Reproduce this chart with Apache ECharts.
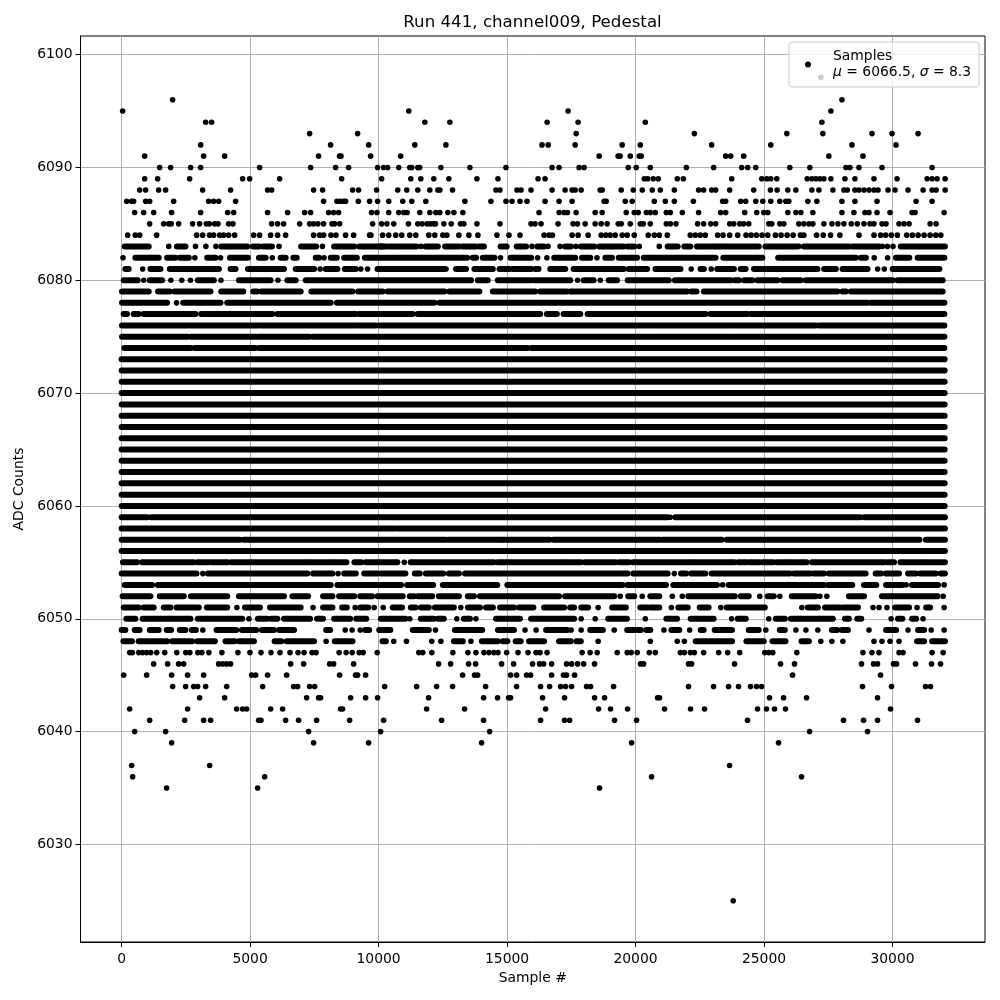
<!DOCTYPE html>
<html>
<head>
<meta charset="utf-8">
<style>
  html, body { margin: 0; padding: 0; background: #fff; }
  #chart { width: 1000px; height: 1000px; }
</style>
<script src="https://cdn.jsdelivr.net/npm/echarts@6/dist/echarts.min.js"></script>
</head>
<body>
<div id="chart"></div>
<script>
// tick labels
const xTicks = [0, 5000, 10000, 15000, 20000, 25000, 30000];
const yTicks = [6030, 6040, 6050, 6060, 6070, 6080, 6090, 6100];

// sparse rows: sample numbers of each dot at that ADC level
const row6098 = [27213];
const row6096 = [1986, 28032];
const row6095 = [40, 11175, 17376, 27603];
const row6094 = [3270, 3503, 11800, 12775, 16560, 17765, 20380, 27252];
const row6093 = [7316, 9184, 17690, 22290, 25887, 27291, 29202, 29982, 30996];
const row6092 = [3075, 8133, 9612, 11410, 12620, 16360, 16600, 17650, 19480, 20185, 22962, 25263, 28422, 30138];
const row6091 = [896, 3192, 4009, 7667, 8484, 8535, 9690, 10860, 18585, 19325, 19400, 19795, 20145, 20220, 23508, 23703, 24210, 27525, 28851];
const row6090 = [1480, 1908, 2686, 3075, 5371, 7355, 8328, 8834, 9962, 10196, 10351, 10785, 11215, 11290, 11526, 11600, 12423, 13554, 14958, 16752, 17025, 17805, 18000, 19716, 20028, 20574, 21978, 23040, 24132, 24366, 24678, 26004, 26784, 28188, 28344, 28695, 29592, 31542];
const row6089 = [896, 1402, 2647, 4709, 4982, 6149, 8562, 10118, 11253, 11643, 12150, 12735, 13827, 14646, 16206, 16479, 20340, 20470, 20690, 20885, 21627, 21861, 23742, 24912, 25107, 25263, 25497, 26680, 26862, 27018, 27174, 27330, 27603, 28149, 28539, 29280, 30177, 31347, 31542, 31737, 32049];
const row6088 = [702, 935, 1441, 1713, 3153, 4242, 5682, 5838, 7472, 7822, 8990, 9223, 9923, 10746, 11097, 11526, 11994, 12306, 12384, 12878, 14568, 14724, 15387, 15543, 15933, 16752, 17259, 17532, 17649, 17883, 18624, 18702, 19443, 19911, 20262, 20652, 20964, 21510, 22455, 22650, 22962, 23118, 23664, 24600, 25250, 25510, 25926, 26238, 26862, 27135, 27681, 28110, 28240, 28539, 28695, 28890, 29085, 29280, 29436, 29826, 30099, 30606, 31191, 31542, 31698, 32049];
const row6087 = [196, 390, 468, 935, 1091, 2025, 3387, 3581, 3776, 4437, 7861, 8380, 8510, 8639, 8717, 9210, 9651, 9962, 10395, 10941, 11292, 11838, 13359, 14373, 14958, 15192, 15504, 15777, 16479, 17025, 17532, 18780, 18858, 19599, 19872, 20730, 21159, 21510, 22251, 23391, 23508, 24093, 24288, 24678, 24951, 25263, 25614, 25848, 25965, 26706, 27057, 28032, 28539, 29397, 30918, 31542];
const row6086 = [507, 857, 1247, 1947, 3075, 4126, 4360, 5682, 6460, 7122, 7355, 8056, 8250, 8445, 9729, 9937, 10395, 10785, 10980, 11110, 11604, 11994, 12228, 12384, 12696, 12930, 13281, 16245, 17025, 17220, 17350, 17688, 18429, 18702, 19638, 19950, 20106, 20418, 20574, 20769, 21198, 21354, 21822, 22455, 23313, 23508, 24249, 24717, 24990, 25146, 25926, 26238, 26433, 26901, 28032, 28500, 28929, 29085, 29397, 29904, 30762, 30879, 32010];
const row6085 = [1091, 1636, 1830, 1934, 2219, 2764, 3036, 3296, 3413, 3620, 3750, 4165, 4333, 5838, 6071, 6305, 6927, 7316, 7472, 7641, 7861, 8185, 8289, 8484, 9768, 10118, 10325, 10590, 11162, 11526, 11695, 11890, 12020, 12150, 12215, 12540, 12826, 13190, 13320, 13827, 14724, 15933, 16089, 16323, 16986, 17571, 17740, 18039, 18429, 18663, 18897, 19326, 19443, 19794, 20184, 20301, 20574, 21198, 21354, 21575, 22416, 22650, 22923, 23118, 23664, 23820, 24054, 24210, 24405, 25185, 25302, 25614, 25770, 26355, 26550, 26745, 26901, 27330, 27642, 27876, 28110, 28396, 28630, 28890, 29124, 29280, 29592, 29748, 30255, 30450, 30645, 31464, 31698];
const row6084 = [235, 533, 702, 1363, 2920, 3153, 3425, 3581, 3815, 3970, 4165, 4398, 5138, 5371, 5799, 6071, 6382, 7472, 7706, 7861, 8147, 8341, 8717, 9029, 9651, 9703, 10157, 10395, 10668, 10902, 11214, 11448, 11955, 12189, 12501, 12657, 13125, 13515, 13866, 14607, 15075, 15504, 16440, 16635, 16765, 17532, 17766, 18156, 18663, 18845, 19014, 19209, 19482, 19677, 19950, 20496, 20730, 20925, 21237, 22130, 22325, 22520, 22715, 23196, 23404, 23664, 23976, 24301, 24496, 24704, 24925, 25146, 25445, 25666, 25900, 26134, 26420, 26550, 27044, 27304, 27590, 27954, 28695, 29280, 29540, 29735, 29956, 30190, 30554, 30775, 30996, 31230, 31464, 31685, 31880];
const row6047 = [314, 418, 665, 821, 977, 1133, 1367, 1679, 2147, 2498, 2654, 2966, 3122, 3395, 3902, 4526, 4994, 5423, 5813, 6164, 6554, 6866, 7100, 7412, 7568, 8465, 8738, 8972, 9245, 9401, 9947, 11565, 11721, 12072, 12891, 13476, 13788, 14100, 14295, 14490, 14646, 14984, 15426, 15816, 16128, 16284, 16557, 17922, 18234, 18507, 19287, 19677, 19833, 20067, 20535, 20769, 21744, 21900, 22134, 22290, 22650, 23235, 23586, 24054, 25029, 25185, 25341, 26277, 28851, 29202, 29475, 30255, 30411, 31542, 31971];
const row6046 = [1247, 1791, 2219, 2414, 3776, 3931, 4087, 4242, 6577, 7083, 8095, 8250, 9029, 12336, 12803, 13503, 13775, 14787, 15254, 15993, 16266, 16421, 16733, 17316, 17511, 17744, 17978, 18406, 20196, 20312, 22063, 22180, 23853, 25643, 26187, 28794, 29262, 29417, 30040, 30157, 30896, 31519, 31869];
const row6045 = [79, 974, 1947, 2569, 3192, 5060, 5215, 5682, 6421, 8484, 9106, 9184, 9495, 13270, 13736, 13853, 15137, 15371, 15760, 15915, 16733, 17199, 17316, 17627, 26110, 29534];
const row6044 = [1986, 2492, 2803, 2959, 3270, 4087, 5488, 6694, 6850, 7316, 7511, 10235, 11480, 12258, 12880, 14165, 15371, 16305, 16655, 17083, 17277, 17511, 18094, 18250, 19145, 22063, 23036, 23620, 24009, 24476, 24709, 24904, 28833, 29962, 31285, 31480];
const row6043 = [3036, 4009, 7200, 7667, 7744, 8912, 9495, 9962, 11947, 14087, 14631, 15059, 15137, 16382, 17238, 18406, 18795, 20857, 20935, 25215, 25760, 26655, 29417];
const row6042 = [313, 2569, 4476, 4709, 4865, 5799, 6266, 8522, 8600, 11869, 13347, 16499, 18561, 19028, 19690, 21129, 22141, 22686, 24748, 25098, 25410, 25838, 29923];
const row6041 = [1091, 2453, 3192, 3464, 5332, 5423, 6382, 6888, 7589, 8873, 10196, 12452, 14087, 16305, 17238, 17433, 19184, 20040, 24359, 28094, 28873, 29417, 30973];
const row6040 = [507, 1713, 7278, 10079, 14320, 26771, 29028];
const row6039 = [1947, 7472, 9612, 14009, 19845, 25565];
const row6037 = [390, 3425, 23658];
const row6036 = [429, 5566, 20623, 26460];
const row6035 = [1752, 5293, 18600];
const row6025 = [23800];

// dense rows: [first, last] sample of a run of touching dots, or one lone dot
const row6083 = [[120, 1055], 1835, [2150, 2485], 2875, 3280, 3670, [3880, 4890], [5110, 5345], [5500, 5850], 6125, [6985, 7570], 7815, [8270, 9050], [9245, 10155], [10070, 10330], [10435, 10695], [10785, 11475], 11645, [11825, 12305], [12590, 13125], [13255, 13775], [13905, 14100], [14750, 14985], [15375, 15740], 15970, [16180, 16440], 16595, 17065, [17260, 17480], 17675, [17870, 18390], [18585, 19535], [19690, 19950], 20145, 20925, [21250, 21640], [21900, 22135], [22390, 23235], [23300, 24795], [25055, 26290], 26355, [26550, 28305], [28435, 29475], 29605, 29800, 30020, [30320, 32040]];
const row6082 = [55, [535, 1445], [1770, 2095], [2265, 2615], 2850, [3330, 3655], 3850, [4215, 4915], [5345, 5605], 5865, [6190, 6385], [6685, 6815], [7555, 7685], 7880, [8140, 8375], [8660, 9155], [9465, 13445], [13665, 13795], [14055, 14510], 14745, [15135, 15940], 16190, 16550, [16835, 17655], [17915, 18240], 18500, [18825, 19085], [19345, 20060], [20320, 23115], [23415, 24935], [25550, 28575], [28770, 28965], 29290, 29810, [30135, 30655], [30980, 32020]];
const row6081 = [[145, 275], 820, [1120, 1510], [1875, 3785], [4240, 4435], [4915, 6320], [6775, 7490], 7725, [7945, 8400], [8685, 9115], 9310, 9570, [9960, 12560], 12625, [13015, 13405], [13730, 14445], [14705, 15095], [15225, 15940], [16100, 16225], [16680, 17265], [17590, 19540], [19735, 20450], [20775, 21750], 22165, [22530, 22660], 22945, [23180, 23830], [24090, 24285], [24610, 27080], [27340, 27795], [28055, 29030], 29420, 29680, [30005, 31825]];
const row6080 = [[80, 625], 860, [1095, 1575], 1915, 2340, 2680, [2965, 3590], 3865, [4565, 5800], 6085, [6450, 6775], [7165, 13600], [13860, 14250], [14640, 15940], [16055, 17460], 17745, [17980, 18370], 18630, [18955, 19280], [19695, 21295], [21530, 23700], [23855, 24025], [24220, 24545], [24740, 25520], [25715, 26430], [26625, 30005], [30200, 31955]];
const row6079 = [[15, 1055], [1420, 1875], [2055, 3460], [3875, 4735], [5125, 5280], [5435, 6970], [7385, 8985], [9205, 10155], [10350, 12560], [12755, 13925], [14445, 16095], [16290, 17330], [17460, 22010], [22165, 22375], [22660, 27860], [28055, 28185], [28380, 31955]];
const row6078 = [[15, 1770], 2135, [2395, 3850], [4110, 8140], [8375, 12170], [12365, 29030], [29160, 32020]];
const row6077 = [[80, 210], [470, 665], [860, 2875], [3095, 5865], [6060, 9115], [9245, 11325], [11520, 15940], [15965, 16290], [16550, 16940], [17200, 17850], [18135, 22725], [22920, 24350], [24480, 32020]];
const row6076 = [[15, 5345], [5435, 9155], [9245, 9895], [10025, 27015], [27145, 32020]];
const row6075 = [[15, 2550], [2680, 5215], [5305, 7295], [7425, 20450], [20530, 23830], [23900, 32020]];
const row6074 = [[105, 2700], [2850, 5200], [5350, 15800], [15950, 32020]];
const row6059 = [[0, 1000], [1150, 21250], 21350, [21550, 28750], [28900, 32040]];
const row6058 = [[0, 10600], [10700, 32040]];
const row6057 = [[0, 4600], [4750, 12600], [12700, 14800], [14850, 16650], [16800, 20950], [21050, 23350], [23550, 31050], [31300, 32040]];
const row6056 = [[0, 8000], [8100, 15400], [15450, 16600], [16650, 17250], [17350, 22200], [22300, 24400], [24450, 25950], [26050, 28550], [28600, 29750], [29800, 31100], [31200, 32040]];
const row6055 = [[50, 600], [800, 2800], [2950, 3400], [3500, 4130], [4270, 7250], [7330, 8750], [9060, 9330], [9500, 10730], 11000, [11250, 14480], [14620, 17870], [18020, 19230], [19370, 19750], [19900, 23850], [24000, 24330], [24440, 24830], [24950, 25370], [25500, 26660], [26870, 29680], [29790, 30060], [30310, 32040]];
const row6054 = [[0, 2915], 3160, [3355, 7230], [7450, 8205], 8425, [8660, 9115], [9440, 9960], [10090, 11045], [11410, 11605], [11840, 12515], [12735, 13125], [13360, 19690], [19910, 21250], 21510, [21770, 21965], [22160, 22715], [22960, 26005], [26160, 26810], [26940, 27330], [27525, 28955], [29345, 29545], [29735, 30255], [30605, 30905], [31075, 31685], [31880, 32040]];
const row6053 = [[120, 1185], [1405, 8140], [8400, 10875], [11110, 12125], [12500, 14620], [15010, 19495], [19690, 21185], [21470, 23170], 23390, [23625, 27330], [27485, 28435], [28890, 29370], [29750, 30385], 30530, [30760, 31775], 32010];
const row6052 = [[40, 1120], [1485, 2420], [2695, 4110], [4565, 6320], [6645, 7255], [7840, 8205], [8465, 9050], [9285, 9750], [9960, 10940], [11215, 11370], [11525, 12085], [12345, 13125], [13475, 13710], [13945, 17025], [17260, 19170], 19405, [19715, 19950], 20260, [20575, 20925], 21430, 21820, [22055, 23860], [24095, 24405], 24835, [25145, 25380], 25615, [26080, 27005], 27175, 27445, [28305, 28890], [29590, 31750], 31970];
const row6051 = [[80, 665], [860, 1250], [1640, 1900], [2135, 3005], [3315, 4110], 4485, [4800, 5385], [5775, 6970], 7450, [7840, 8205], [8580, 8765], 9090, [9285, 9595], 9830, 10180, [10550, 10915], [11255, 11435], [11645, 11955], [12190, 12930], 13200, [13475, 13945], [14180, 14450], [14725, 15270], [15465, 16025], [16440, 17220], [17455, 17610], [17885, 18155], 18545, [19090, 19625], [20185, 20470], [20575, 20925], 21395, [21665, 22030], [22495, 22845], 23315, [23545, 25030], 26470, [26705, 27095], [27370, 27955], [28070, 28655], 29240, 29475, 29785, [30100, 30645], 30955, [31310, 31465], 32010];
const row6050 = [[185, 535], [820, 2680], [2965, 4695], 4955, [5305, 5670], [5815, 6060], [6320, 7335], [7605, 7840], [8270, 8895], [9130, 9520], [10090, 11045], 11215, [11645, 12150], [12305, 12540], 13045, [13320, 13555], 13790, [14570, 15505], [15935, 17610], 17885, 18430, [18935, 19665], 20380, [21200, 21615], [22145, 23040], 23740, [23975, 24290], 25185, [25460, 25810], [26045, 27680], [28150, 28305], [28630, 28785], 29945, [30215, 30385], [30760, 30920], 31190];
const row6049 = [[0, 145], [510, 700], [1095, 1445], [1755, 1925], [2265, 2485], [2730, 2890], 3160, [3695, 4460], [4680, 5240], [5460, 5930], [6125, 6710], [7960, 8115], 8700, 8970, 9285, [9480, 9635], [10025, 10460], [11330, 11955], 12215, [12970, 14035], [14645, 15270], 15700, 16130, [16520, 17350], 17495, 17885, [18235, 18730], 19170, [19675, 20210], [20420, 20575], 21105, [21395, 21705], 22105, [22535, 22650], [23080, 23755], [24405, 24795], 25070, [25615, 25810], 26240, 26630, 27095, [27640, 27850], [28030, 28265], 29085, [29750, 30140], 30605, [30995, 31230], 31505, 32010];
const row6048 = [[70, 405], [665, 1770], [1965, 2745], [2940, 3630], [4045, 4395], [4565, 5150], [5955, 6215], [6425, 7490], 7960, [8295, 8985], [10155, 10285], 10590, 11085, 12070, 12425, [12930, 13280], 13595, [14020, 14645], [14840, 15010], [15335, 15530], [15855, 16440], [17025, 17480], [17700, 17870], 18545, 20575, 21625, 21900, [22340, 23755], [24315, 24990], [25330, 25835], [26460, 26745], 27210, 27640, 28070, 29280, 29590, 29905, 30255, [30955, 31230], [31540, 32040]];

// rows with no visible gap across the whole record
const fullLevels = [6060, 6061, 6062, 6063, 6064, 6065, 6066, 6067, 6068, 6069, 6070, 6071, 6072, 6073];
const fullSpan = [0, 32030];

const sparseRows = [
  [6098, row6098], [6096, row6096], [6095, row6095], [6094, row6094], [6093, row6093], [6092, row6092],
  [6091, row6091], [6090, row6090], [6089, row6089], [6088, row6088], [6087, row6087], [6086, row6086],
  [6085, row6085], [6084, row6084], [6047, row6047], [6046, row6046], [6045, row6045], [6044, row6044],
  [6043, row6043], [6042, row6042], [6041, row6041], [6040, row6040], [6039, row6039], [6037, row6037],
  [6036, row6036], [6035, row6035], [6025, row6025]
];
const denseRows = [
  [6083, row6083], [6082, row6082], [6081, row6081], [6080, row6080], [6079, row6079], [6078, row6078],
  [6077, row6077], [6076, row6076], [6075, row6075], [6074, row6074], [6059, row6059], [6058, row6058],
  [6057, row6057], [6056, row6056], [6055, row6055], [6054, row6054], [6053, row6053], [6052, row6052],
  [6051, row6051], [6050, row6050], [6049, row6049], [6048, row6048]
];

const dots = [];
const runs = [];
sparseRows.forEach(([level, xs]) => xs.forEach((x) => dots.push([x, level])));
denseRows.forEach(([level, items]) => {
  items.forEach((item) => {
    if (Array.isArray(item)) runs.push([item[0], item[1], level]);
    else dots.push([item, level]);
  });
});
fullLevels.forEach((level) => runs.push([fullSpan[0], fullSpan[1], level]));

const font = 'DejaVu Sans';
const dotSize = 5.6;
const runWidth = 6;

const myChart = echarts.init(document.getElementById('chart'), null, { renderer: 'canvas' });
myChart.setOption({
  animation: false,
  backgroundColor: '#fff',
  textStyle: { fontFamily: font },
  title: {
    text: 'Run 441, channel009, Pedestal',
    left: 527.5,
    top: 9.5,
    textAlign: 'center',
    textStyle: { fontFamily: font, fontSize: 16.66, fontWeight: 'normal', color: '#000' }
  },
  legend: {
    data: ['Samples'],
    left: 789,
    top: 42,
    padding: [6, 8, 6, 16],
    itemWidth: 40,
    itemHeight: 6,
    itemGap: 0,
    icon: 'circle',
    selectedMode: false,
    backgroundColor: 'rgba(255,255,255,0.8)',
    borderColor: '#ccc',
    borderWidth: 1,
    borderRadius: 3,
    formatter: () => 'Samples\n{i|μ} = 6066.5, {i|σ} = 8.3',
    textStyle: {
      fontFamily: font,
      fontSize: 13.9,
      color: '#000',
      lineHeight: 16.5,
      rich: { i: { fontFamily: font, fontStyle: 'italic', fontSize: 13.9, color: '#000', lineHeight: 16.5 } }
    }
  },
  grid: { left: 80.5, right: 15, top: 36, bottom: 58, show: true, borderColor: '#000', borderWidth: 1, backgroundColor: 'transparent' },
  xAxis: {
    type: 'value',
    min: -1600,
    max: 33600,
    name: 'Sample #',
    nameLocation: 'middle',
    nameGap: 29,
    nameTextStyle: { fontFamily: font, fontSize: 13.9, color: '#000' },
    axisLine: { show: true, onZero: false, lineStyle: { color: '#000', width: 1 } },
    axisTick: { show: true, length: 5, customValues: xTicks, lineStyle: { color: '#000', width: 1 } },
    axisLabel: { customValues: xTicks, fontFamily: font, fontSize: 13.9, color: '#000', margin: 10, formatter: (v) => String(v) },
    splitLine: { show: true, customValues: xTicks, lineStyle: { color: '#b0b0b0', width: 1 } }
  },
  yAxis: {
    type: 'value',
    min: 6021.35,
    max: 6101.65,
    name: 'ADC Counts',
    nameLocation: 'middle',
    nameGap: 48,
    nameTextStyle: { fontFamily: font, fontSize: 13.9, color: '#000' },
    axisLine: { show: true, onZero: false, lineStyle: { color: '#000', width: 1 } },
    axisTick: { show: true, length: 5, customValues: yTicks, lineStyle: { color: '#000', width: 1 } },
    axisLabel: { customValues: yTicks, fontFamily: font, fontSize: 13.9, color: '#000', margin: 8, formatter: (v) => String(v) },
    splitLine: { show: true, customValues: yTicks, lineStyle: { color: '#b0b0b0', width: 1 } }
  },
  series: [
    {
      type: 'custom',
      name: 'Runs',
      silent: true,
      data: runs,
      encode: { x: [0, 1], y: 2 },
      renderItem: (params, api) => {
        const a = api.coord([api.value(0), api.value(2)]);
        const b = api.coord([api.value(1), api.value(2)]);
        return {
          type: 'line',
          shape: { x1: a[0], y1: a[1], x2: b[0], y2: b[1] },
          style: { stroke: '#000', lineWidth: runWidth, lineCap: 'round', fill: null }
        };
      }
    },
    {
      type: 'scatter',
      name: 'Samples',
      symbol: 'circle',
      symbolSize: dotSize,
      silent: true,
      itemStyle: { color: '#000', opacity: 1 },
      data: dots
    }
  ]
});
</script>
</body>
</html>
